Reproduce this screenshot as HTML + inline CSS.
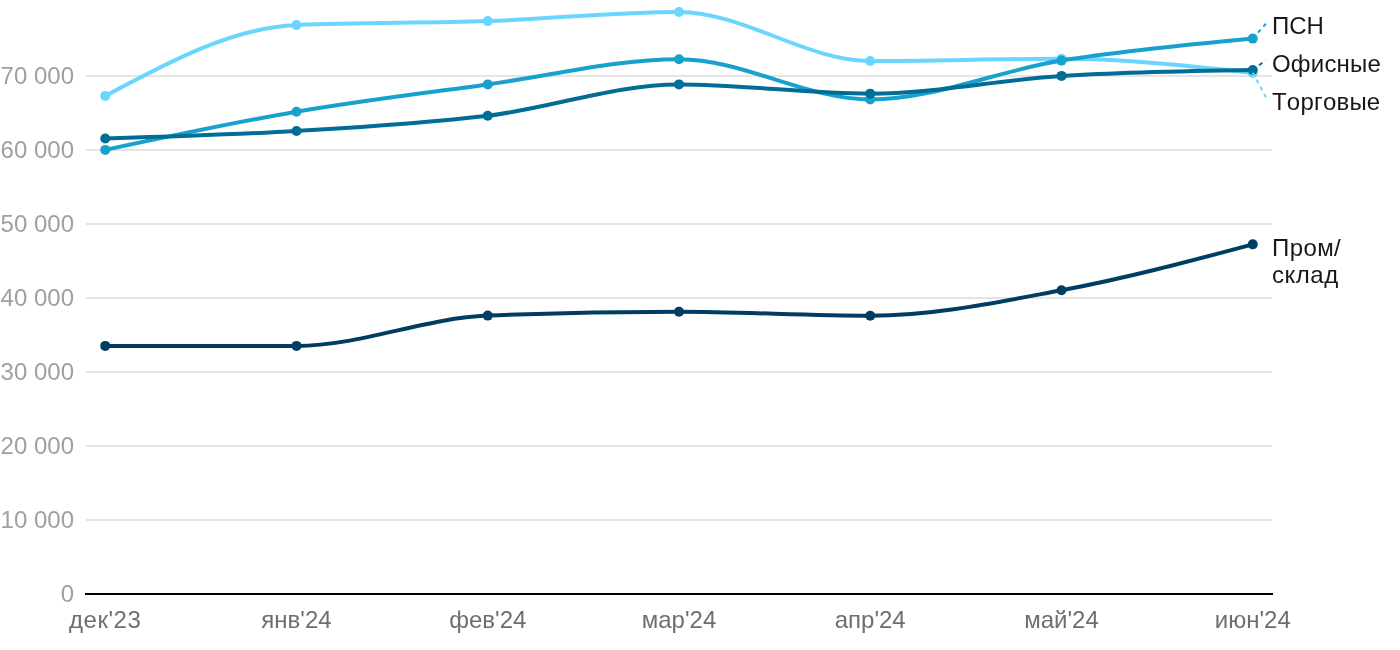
<!DOCTYPE html>
<html lang="ru"><head><meta charset="utf-8"><title>Chart</title>
<style>
html,body{margin:0;padding:0;background:#fff;}
body{width:1400px;height:650px;overflow:hidden;position:relative;font-family:"Liberation Sans",sans-serif;}
svg{position:absolute;left:0;top:0;display:block;}
text{font-family:"Liberation Sans",sans-serif;font-size:24px;font-kerning:none;}
.yl{fill:#a0a0a0;text-anchor:end;}
.xl{fill:#6e6e6e;text-anchor:middle;}
.sl{fill:#181818;text-anchor:start;letter-spacing:0.2px;}
</style></head><body>
<svg width="1400" height="650" viewBox="0 0 1400 650">
<text class="yl" x="74" y="602.0">0</text>
<rect x="86" y="519" width="1186" height="2" fill="#e5e5e5"/>
<text class="yl" x="74" y="528.0">10 000</text>
<rect x="86" y="445" width="1186" height="2" fill="#e5e5e5"/>
<text class="yl" x="74" y="454.0">20 000</text>
<rect x="86" y="371" width="1186" height="2" fill="#e5e5e5"/>
<text class="yl" x="74" y="380.0">30 000</text>
<rect x="86" y="297" width="1186" height="2" fill="#e5e5e5"/>
<text class="yl" x="74" y="306.0">40 000</text>
<rect x="86" y="223" width="1186" height="2" fill="#e5e5e5"/>
<text class="yl" x="74" y="232.0">50 000</text>
<rect x="86" y="149" width="1186" height="2" fill="#e5e5e5"/>
<text class="yl" x="74" y="158.0">60 000</text>
<rect x="86" y="75" width="1186" height="2" fill="#e5e5e5"/>
<text class="yl" x="74" y="84.0">70 000</text>
<path d="M105.25,95.90C169.00,61.75,232.75,27.60,296.50,25.00C360.25,22.40,424.00,23.27,487.75,21.10C551.50,18.93,615.25,12.00,679.00,12.00C742.75,12.00,806.50,61.00,870.25,61.00C934.00,61.00,997.75,58.80,1061.50,58.80C1125.25,58.80,1189.00,65.75,1252.75,72.70" fill="none" stroke="#6ad6fd" stroke-width="4" stroke-linejoin="round" stroke-linecap="round"/>
<circle cx="105.25" cy="95.90" r="5" fill="#6ad6fd"/>
<circle cx="296.50" cy="25.00" r="5" fill="#6ad6fd"/>
<circle cx="487.75" cy="21.10" r="5" fill="#6ad6fd"/>
<circle cx="679.00" cy="12.00" r="5" fill="#6ad6fd"/>
<circle cx="870.25" cy="61.00" r="5" fill="#6ad6fd"/>
<circle cx="1061.50" cy="58.80" r="5" fill="#6ad6fd"/>
<circle cx="1252.75" cy="72.70" r="5" fill="#6ad6fd"/>
<path d="M105.25,149.90C169.00,136.26,232.75,122.62,296.50,111.70C360.25,100.78,424.00,93.13,487.75,84.40C551.50,75.67,615.25,59.30,679.00,59.30C742.75,59.30,806.50,99.40,870.25,99.40C934.00,99.40,997.75,70.73,1061.50,60.60C1125.25,50.47,1189.00,44.53,1252.75,38.60" fill="none" stroke="#18a1cd" stroke-width="4" stroke-linejoin="round" stroke-linecap="round"/>
<circle cx="105.25" cy="149.90" r="5" fill="#18a1cd"/>
<circle cx="296.50" cy="111.70" r="5" fill="#18a1cd"/>
<circle cx="487.75" cy="84.40" r="5" fill="#18a1cd"/>
<circle cx="679.00" cy="59.30" r="5" fill="#18a1cd"/>
<circle cx="870.25" cy="99.40" r="5" fill="#18a1cd"/>
<circle cx="1061.50" cy="60.60" r="5" fill="#18a1cd"/>
<circle cx="1252.75" cy="38.60" r="5" fill="#18a1cd"/>
<path d="M105.25,138.55C169.00,136.67,232.75,134.79,296.50,131.00C360.25,127.21,424.00,123.57,487.75,115.80C551.50,108.03,615.25,84.40,679.00,84.40C742.75,84.40,806.50,93.65,870.25,93.65C934.00,93.65,997.75,79.83,1061.50,75.90C1125.25,71.97,1189.00,70.98,1252.75,70.00" fill="none" stroke="#006d97" stroke-width="4" stroke-linejoin="round" stroke-linecap="round"/>
<circle cx="105.25" cy="138.55" r="5" fill="#006d97"/>
<circle cx="296.50" cy="131.00" r="5" fill="#006d97"/>
<circle cx="487.75" cy="115.80" r="5" fill="#006d97"/>
<circle cx="679.00" cy="84.40" r="5" fill="#006d97"/>
<circle cx="870.25" cy="93.65" r="5" fill="#006d97"/>
<circle cx="1061.50" cy="75.90" r="5" fill="#006d97"/>
<circle cx="1252.75" cy="70.00" r="5" fill="#006d97"/>
<path d="M105.25,345.90C169.00,345.90,232.75,345.90,296.50,345.90C360.25,345.90,424.00,318.13,487.75,315.60C551.50,313.07,615.25,311.80,679.00,311.80C742.75,311.80,806.50,315.70,870.25,315.70C934.00,315.70,997.75,302.19,1061.50,290.30C1125.25,278.41,1189.00,261.38,1252.75,244.35" fill="none" stroke="#003d61" stroke-width="4" stroke-linejoin="round" stroke-linecap="round"/>
<circle cx="105.25" cy="345.90" r="5" fill="#003d61"/>
<circle cx="296.50" cy="345.90" r="5" fill="#003d61"/>
<circle cx="487.75" cy="315.60" r="5" fill="#003d61"/>
<circle cx="679.00" cy="311.80" r="5" fill="#003d61"/>
<circle cx="870.25" cy="315.70" r="5" fill="#003d61"/>
<circle cx="1061.50" cy="290.30" r="5" fill="#003d61"/>
<circle cx="1252.75" cy="244.35" r="5" fill="#003d61"/>
<rect x="85" y="593" width="1188" height="2" fill="#000"/>
<line x1="1252.75" y1="38.60" x2="1266.00" y2="23.50" stroke="#18a1cd" stroke-width="2" stroke-dasharray="4,4"/>
<line x1="1252.75" y1="70.00" x2="1265.70" y2="60.25" stroke="#006d97" stroke-width="2" stroke-dasharray="4,4"/>
<line x1="1252.75" y1="72.70" x2="1266.00" y2="97.40" stroke="#6ad6fd" stroke-width="2" stroke-dasharray="4,4"/>
<text class="xl" x="105.2" y="628" style="letter-spacing:0.55px">дек'23</text>
<text class="xl" x="296.5" y="628">янв'24</text>
<text class="xl" x="487.8" y="628">фев'24</text>
<text class="xl" x="679.0" y="628">мар'24</text>
<text class="xl" x="870.2" y="628">апр'24</text>
<text class="xl" x="1061.5" y="628">май'24</text>
<text class="xl" x="1252.8" y="628">июн'24</text>
<text class="sl" x="1272" y="34" style="letter-spacing:0">ПСН</text>
<text class="sl" x="1272" y="72">Офисные</text>
<text class="sl" x="1272" y="110">Торговые</text>
<text class="sl" x="1272" y="256" style="letter-spacing:0.4px">Пром/</text>
<text class="sl" x="1272" y="283" style="letter-spacing:0.62px">склад</text>
</svg></body></html>
